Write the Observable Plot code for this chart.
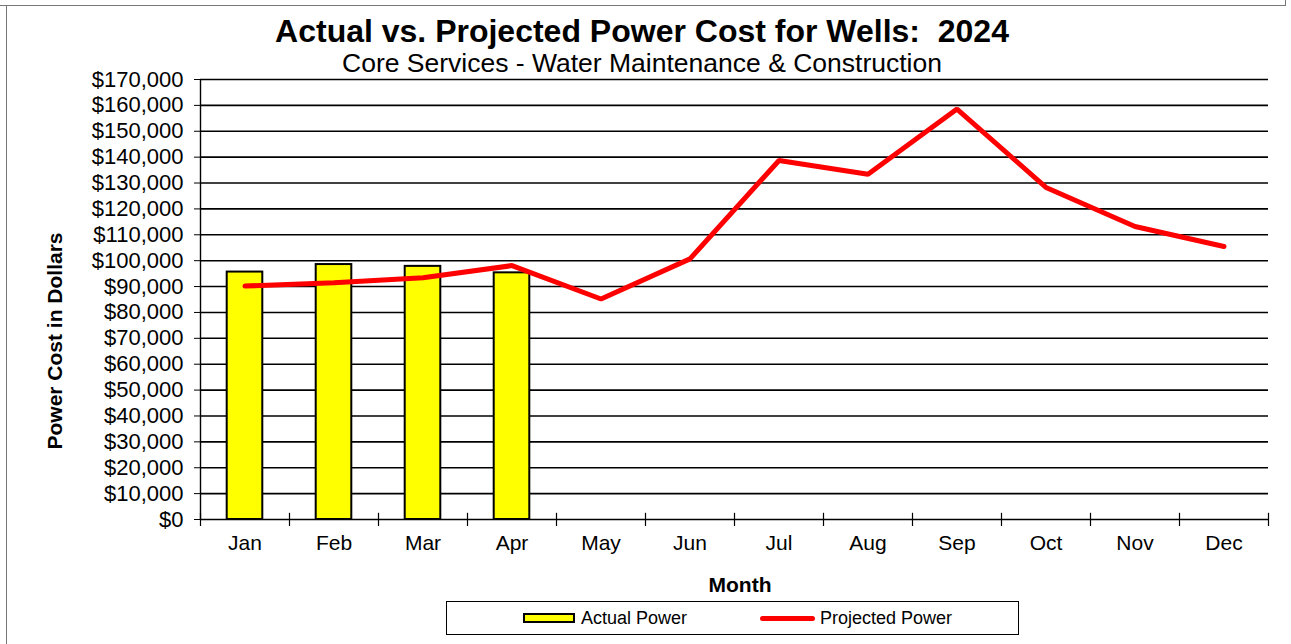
<!DOCTYPE html>
<html>
<head>
<meta charset="utf-8">
<script src="https://cdn.jsdelivr.net/npm/d3@7"></script>
<script src="https://cdn.jsdelivr.net/npm/@observablehq/plot@0.6"></script>
<style>
  html, body { margin: 0; padding: 0; background: #fff; }
  #wrap { position: relative; width: 1291px; height: 644px; overflow: hidden; font-family: "Liberation Sans", Arial, sans-serif; }
  #chart { position: absolute; left: 0; top: 0; }
  .t { position: absolute; white-space: nowrap; color: #000; }
  #title { left: 0; width: 1284px; text-align: center; top: 13px; font-size: 32px; font-weight: bold; }
  #subtitle { left: 0; width: 1284px; text-align: center; top: 48px; font-size: 26.5px; }
  #ylabel { left: 55px; top: 341px; font-size: 21px; font-weight: bold; transform: translate(-50%, -50%) rotate(-90deg); }
  #xlabel { left: 0; width: 1480px; text-align: center; top: 573px; font-size: 21px; font-weight: bold; }
  #legend { position: absolute; left: 446px; top: 601px; width: 571px; height: 32px; border: 1px solid #000; background: #fff; font-size: 18px; }
  .sw { position: absolute; }
  .frameL { position: absolute; left: 6px; top: 5px; width: 1px; height: 640px; background: #777; }
  .frameT { position: absolute; left: 0; top: 5px; width: 1286px; height: 1px; background: #777; }
  .frameR { position: absolute; left: 1285px; top: 0; width: 1px; height: 6px; background: #777; }
</style>
</head>
<body>
<div id="wrap">
  <div class="frameL"></div><div class="frameT"></div><div class="frameR"></div>
  <div id="chart"></div>
  <div class="t" id="title">Actual vs. Projected Power Cost for Wells:&nbsp; 2024</div>
  <div class="t" id="subtitle">Core Services - Water Maintenance &amp; Construction</div>
  <div class="t" id="ylabel">Power Cost in Dollars</div>
  <div class="t" id="xlabel">Month</div>
  <div id="legend">
    <div class="sw" style="left:76px; top:11px; width:48px; height:6px; background:#ffff00; border:2px solid #000;"></div>
    <div class="t" style="left:134px; top:6px;">Actual Power</div>
    <div class="sw" style="left:313px; top:14px; width:55px; height:5px; background:#ff0000; border-radius:3px;"></div>
    <div class="t" style="left:373px; top:6px;">Projected Power</div>
  </div>
</div>
<script>
const months = ["Jan","Feb","Mar","Apr","May","Jun","Jul","Aug","Sep","Oct","Nov","Dec"];
const actualPower = [95600, 98500, 97800, 95300];
const projectedPower = [90200, 91500, 93400, 98100, 85200, 100700, 138700, 133400, 158600, 128300, 113200, 105500];
const yTicks = d3.range(0, 170001, 10000);

const idx = months.map((m, i) => i + 1);
const bars = actualPower.map((v, i) => ({i: i + 1, v}));
const line = projectedPower.map((v, i) => ({i: i + 1, v}));
const bounds = d3.range(0.5, months.length + 1, 1);

const chart = Plot.plot({
  width: 1291,
  height: 644,
  marginLeft: 200,
  marginRight: 23,
  marginTop: 79,
  marginBottom: 125,
  style: {fontFamily: "'Liberation Sans', Arial, sans-serif", fontSize: "21px", color: "#000", background: "transparent", overflow: "visible"},
  x: {domain: [0.5, 12.5]},
  y: {domain: [0, 170000]},
  marks: [
    Plot.ruleY(yTicks, {stroke: "#000", strokeWidth: 1.6}),
    Plot.ruleX(bounds, {x: d => d, y1: -2700, y2: 2400, stroke: "#000", strokeWidth: 1.2, clip: false}),
    Plot.ruleX([0.5], {stroke: "#000", strokeWidth: 1.4}),
    Plot.rectY(bars, {x1: d => d.i - 0.2, x2: d => d.i + 0.2, y1: 0, y2: "v", fill: "#ffff00", stroke: "#000", strokeWidth: 2}),
    Plot.line(line, {x: "i", y: "v", stroke: "#ff0000", strokeWidth: 5, strokeLinejoin: "miter"}),
    Plot.axisY({ticks: yTicks, tickFormat: d3.format("$,"), tickSize: 6, tickPadding: 11, label: null, fontSize: 22}),
    Plot.axisX({ticks: idx, tickFormat: d => months[d - 1], tickSize: 0, tickPadding: 16, label: null, fontSize: 21})
  ]
});
document.getElementById("chart").appendChild(chart);
</script>
</body>
</html>
